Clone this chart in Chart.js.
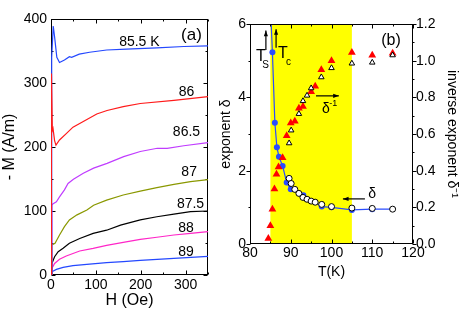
<!DOCTYPE html>
<html>
<head>
<meta charset="utf-8">
<script src="https://cdn.jsdelivr.net/npm/chart.js@4.4.1/dist/chart.umd.min.js"></script>
<style>
  html, body { margin: 0; padding: 0; background: #fff; }
  #wrap { position: relative; width: 463px; height: 309px; overflow: hidden; }
  #wrap canvas { position: absolute; top: 0; }
</style>
</head>
<body>
<div id="wrap">
  <canvas id="graphA" width="230" height="309" style="left:0"></canvas>
  <canvas id="graphB" width="253" height="309" style="left:210px"></canvas>
</div>
<script>
// ---- panel (a): -M (A/m) vs H (Oe), one pair of arrays per temperature
var h855 = [0, 1.5, 5, 8, 13, 19, 30, 41, 46, 63, 86, 124, 168, 236, 296, 350];
var m855 = [0, 340, 389, 372, 340, 332, 336, 341, 340, 345, 348, 351.6, 353, 355, 357, 358];
var h86 = [0, 1, 3, 4.5, 8, 11, 19, 34, 49, 72, 102, 125, 161, 199, 274, 350];
var m86 = [0, 315, 226, 229, 210, 203, 211, 221, 231, 240, 251.5, 257, 263, 268, 273, 278.6];
var h865 = [0, 2, 4, 12, 19, 30, 38, 50, 72, 95, 125, 162, 199, 237, 259, 296, 350];
var m865 = [0, 109, 111, 114.5, 122, 133, 143, 149.5, 159, 167, 174.5, 185, 193, 198, 198, 202, 207];
var h87 = [0, 2, 9, 19, 30, 41, 58, 80, 95, 124, 161, 199, 236, 274, 311, 350];
var m87 = [0, 47, 49.5, 62.5, 75.5, 86, 94, 101.6, 109, 117, 125, 131, 136.5, 141.7, 146, 149];
var h875 = [0, 2, 8, 16, 27, 41, 64, 94, 124, 155, 199, 236, 274, 311, 350];
var m875 = [0, 18, 28.6, 36.4, 41.7, 49.5, 57, 65, 70, 78, 86, 91, 95, 99, 100];
var h88 = [0, 2, 8, 19, 34, 64, 94, 124, 161, 199, 236, 274, 311, 350];
var m88 = [0, 10.4, 18, 24.5, 29.7, 37.5, 41.7, 46.4, 51, 55.8, 59, 62.5, 65, 67.7];
var h89 = [0, 2, 12, 27, 49, 86, 124, 161, 199, 274, 350];
var m89 = [0, 5, 8.8, 12, 14.6, 17, 19.3, 20.8, 22.9, 26, 29];
var curveNames = ['85.5 K', '86', '86.5', '87', '87.5', '88', '89'];

// ---- panel (b): exponent delta and inverse exponent vs T (K)
var deltaT = [85.2, 85.5, 86.1, 86.6, 87.1, 88.0, 89.0, 90.0, 93.1, 97.6, 100, 105, 110, 115];
var deltaV = [6.0, 5.23, 3.31, 2.64, 2.38, 2.13, 1.68, 1.49, 1.33, 1.02, 1.0, 0.93, 0.95, 0.95];
var openT = [89.6, 90.1, 91.0, 92.0, 93.0, 94.0, 95.0, 96.0, 97.6, 100, 105, 110, 115];
var openV = [1.79, 1.65, 1.49, 1.38, 1.27, 1.22, 1.17, 1.14, 1.08, 1.02, 0.98, 0.97, 0.95];
var invT = [84.5, 85.0, 85.5, 86.0, 86.5, 87.0, 88.0, 89.0, 90.0, 91.0, 92.0, 93.0, 95.0, 96.0, 97.5, 100, 105, 110, 115];
var invV = [0.03, 0.10, 0.19, 0.30, 0.38, 0.42, 0.47, 0.59, 0.66, 0.67, 0.74, 0.75, 0.83, 0.86, 0.95, 1.0, 1.045, 1.03, 1.04];
var invOpenT = [89.6, 90.1, 92.0, 93.0, 94.0, 95.0, 97.5, 100, 105, 110, 115];
var invOpenV = [0.55, 0.62, 0.71, 0.78, 0.81, 0.85, 0.91, 0.96, 0.985, 0.99, 1.03];
var shadeFrom = 85, shadeTo = 105;

Chart.defaults.font.family = "'Liberation Sans', Arial, sans-serif";
Chart.defaults.color = '#000';
var narrow = "'Liberation Sans Narrow', 'Liberation Sans', Arial, sans-serif";

function pts(xs, ys) {
  return xs.map(function (x, i) { return { x: x, y: ys[i] }; });
}

function curve(label, xs, ys, color, order) {
  return {
    label: label, data: pts(xs, ys), borderColor: color, backgroundColor: color,
    borderWidth: 1.2, pointRadius: 0, tension: 0, order: order
  };
}

function arrow(ctx, x1, y1, x2, y2) {
  var ang = Math.atan2(y2 - y1, x2 - x1);
  ctx.beginPath();
  ctx.moveTo(x1, y1); ctx.lineTo(x2, y2);
  ctx.stroke();
  ctx.beginPath();
  ctx.moveTo(x2, y2);
  ctx.lineTo(x2 - 6 * Math.cos(ang - 0.35), y2 - 6 * Math.sin(ang - 0.35));
  ctx.lineTo(x2 - 6 * Math.cos(ang + 0.35), y2 - 6 * Math.sin(ang + 0.35));
  ctx.closePath();
  ctx.fill();
}

// ticks: list of [value, length]; inward or outward on one side
function marks(ctx, scale, ticks, side, edge, inward) {
  ctx.beginPath();
  ticks.forEach(function (t) {
    var p = Math.round(scale.getPixelForValue(t[0])) + 0.5;
    var l = inward ? t[1] : -t[1];
    if (side === 'bottom') { ctx.moveTo(p, edge); ctx.lineTo(p, edge - l); }
    if (side === 'top') { ctx.moveTo(p, edge); ctx.lineTo(p, edge + l); }
    if (side === 'left') { ctx.moveTo(edge, p); ctx.lineTo(edge + l, p); }
    if (side === 'right') { ctx.moveTo(edge, p); ctx.lineTo(edge - l, p); }
  });
  ctx.stroke();
}

function stepTicks(from, to, step, majorEvery) {
  var out = [];
  for (var i = 0; from + i * step <= to + 1e-9; i++) {
    out.push([from + i * step, i % majorEvery === 0 ? 4 : 2]);
  }
  return out;
}

function box(ctx, a) {
  ctx.strokeRect(Math.round(a.left) + 0.5, Math.round(a.top) + 0.5,
    Math.round(a.right - a.left) - 1, Math.round(a.bottom - a.top) - 1);
}

// ---------- panel (a)
var frameA = {
  id: 'frameA',
  beforeDatasetsDraw: function (chart) {
    var ctx = chart.ctx, a = chart.chartArea, x = chart.scales.x, y = chart.scales.y;
    ctx.save();
    ctx.strokeStyle = '#000';
    ctx.lineWidth = 1;
    box(ctx, a);
    var xt = stepTicks(0, 350, 50, 2), yt = stepTicks(0, 400, 50, 2);
    marks(ctx, x, xt, 'bottom', a.bottom - 0.5, true);
    marks(ctx, x, xt, 'top', a.top + 0.5, true);
    marks(ctx, y, yt, 'left', a.left + 0.5, true);
    marks(ctx, y, yt, 'right', a.right - 0.5, true);
    ctx.restore();
  },
  afterDraw: function (chart) {
    var ctx = chart.ctx, x = chart.scales.x, y = chart.scales.y;
    var spots = [[197, 364], [302, 286], [302, 223], [308, 161], [311, 111], [301, 72.7], [301, 35]];
    ctx.save();
    ctx.fillStyle = '#000';
    ctx.textAlign = 'center';
    ctx.textBaseline = 'middle';
    ctx.font = "14px 'Liberation Sans', Arial, sans-serif";
    curveNames.forEach(function (n, i) {
      ctx.fillText(n, x.getPixelForValue(spots[i][0]), y.getPixelForValue(spots[i][1]));
    });
    ctx.font = "17px 'Liberation Sans', Arial, sans-serif";
    ctx.fillText('(a)', x.getPixelForValue(313), y.getPixelForValue(375));
    ctx.restore();
  }
};

new Chart(document.getElementById('graphA'), {
  type: 'line',
  data: {
    datasets: [
      curve(curveNames[0], h855, m855, '#2448ff', 1),
      curve(curveNames[1], h86, m86, '#ff1a1a', 0),
      curve(curveNames[2], h865, m865, '#c03cff', 1),
      curve(curveNames[3], h87, m87, '#8a9800', 1),
      curve(curveNames[4], h875, m875, '#000000', 1),
      curve(curveNames[5], h88, m88, '#ff26c8', 1),
      curve(curveNames[6], h89, m89, '#2448ff', 1)
    ]
  },
  options: {
    responsive: false,
    animation: false,
    layout: { padding: { top: 19, right: 22, left: 0, bottom: 0 } },
    plugins: { legend: { display: false }, tooltip: { enabled: false } },
    scales: {
      x: {
        type: 'linear', min: 0, max: 350,
        grid: { display: false, drawTicks: false },
        border: { display: false },
        ticks: {
          stepSize: 50, padding: 2, maxRotation: 0, autoSkip: false,
          font: { size: 14 },
          callback: function (v) { return v % 100 === 0 ? v : ''; }
        },
        title: { display: true, text: 'H (Oe)', font: { size: 16, lineHeight: 1 }, padding: { top: 0, bottom: 0 } },
        afterFit: function (s) { s.height = 34; }
      },
      y: {
        min: 0, max: 400,
        grid: { display: false, drawTicks: false },
        border: { display: false },
        ticks: {
          stepSize: 50, padding: 4, autoSkip: false,
          font: { size: 14 },
          callback: function (v) { return v % 100 === 0 ? v : ''; }
        },
        title: { display: true, text: '- M (A/m)', font: { size: 16, lineHeight: 1 }, padding: { top: 2, bottom: 0 } },
        afterFit: function (s) { s.width = 51; }
      }
    }
  },
  plugins: [frameA]
});

// ---------- panel (b)
var frameB = {
  id: 'frameB',
  beforeDatasetsDraw: function (chart) {
    var ctx = chart.ctx, a = chart.chartArea, x = chart.scales.x;
    ctx.save();
    ctx.fillStyle = '#ffff00';
    var l = x.getPixelForValue(shadeFrom), r = x.getPixelForValue(shadeTo);
    ctx.fillRect(l, a.top, r - l, a.bottom - a.top);
    ctx.restore();
  },
  afterDatasetsDraw: function (chart) {
    var ctx = chart.ctx, a = chart.chartArea, x = chart.scales.x, y = chart.scales.y, y2 = chart.scales.y2;
    ctx.save();
    ctx.strokeStyle = '#000';
    ctx.lineWidth = 1;
    box(ctx, a);
    var xt = stepTicks(80, 120, 5, 2);
    marks(ctx, x, xt, 'bottom', a.bottom - 0.5, true);
    marks(ctx, x, xt, 'top', a.top + 0.5, true);
    marks(ctx, y, stepTicks(0, 6, 1, 2), 'left', a.left + 0.5, false);
    marks(ctx, y2, stepTicks(0, 1.2, 0.1, 2), 'right', a.right - 0.5, false);
    ctx.restore();
  },
  afterDraw: function (chart) {
    var ctx = chart.ctx, x = chart.scales.x, y = chart.scales.y;
    function px(t) { return x.getPixelForValue(t); }
    function py(d) { return y.getPixelForValue(d); }
    ctx.save();
    ctx.fillStyle = '#000';
    ctx.strokeStyle = '#000';
    ctx.lineWidth = 1.2;
    arrow(ctx, px(83.9), py(5.29), px(83.9), py(5.82));
    arrow(ctx, px(86.4), py(5.35), px(86.4), py(5.86));
    arrow(ctx, px(96.2), py(4.04), px(101.8), py(4.04));
    arrow(ctx, px(108.2), py(1.23), px(102.8), py(1.23));
    ctx.textAlign = 'center';
    ctx.textBaseline = 'middle';
    ctx.font = "16px 'Liberation Sans', Arial, sans-serif";
    ctx.fillText('T', px(82.7), py(5.1));
    ctx.fillText('T', px(88.1), py(5.18));
    ctx.font = "10px 'Liberation Sans', Arial, sans-serif";
    ctx.fillText('S', px(83.8), py(4.88));
    ctx.fillText('c', px(89.45), py(4.96));
    ctx.font = "14px 'Liberation Sans', Arial, sans-serif";
    ctx.fillText('\u03b4', px(98.65), py(3.68));
    ctx.fillText('\u03b4', px(110), py(1.36));
    ctx.font = "9px 'Liberation Sans', Arial, sans-serif";
    ctx.fillText('-1', px(100.4), py(3.82));
    ctx.font = "16px 'Liberation Sans', Arial, sans-serif";
    ctx.fillText('(b)', px(114.6), py(5.56));
    ctx.restore();
  }
};

var blueRadius = deltaT.map(function (t, i) { return (i === 0 || i === deltaT.length - 1) ? 0 : 3; });

new Chart(document.getElementById('graphB'), {
  type: 'line',
  data: {
    datasets: [
      {
        label: 'delta', data: pts(deltaT, deltaV), yAxisID: 'y',
        borderColor: '#2a4cff', backgroundColor: '#2a4cff', borderWidth: 1.2,
        pointRadius: blueRadius, pointBorderWidth: 0, tension: 0, order: 2
      },
      {
        label: 'delta open', data: pts(openT, openV), yAxisID: 'y', showLine: false,
        pointStyle: 'circle', pointRadius: 3, pointBackgroundColor: '#fff',
        pointBorderColor: '#000', pointBorderWidth: 1, order: 1
      },
      {
        label: 'inverse', data: pts(invT, invV), yAxisID: 'y2', showLine: false,
        pointStyle: 'triangle', pointRadius: 4.5, pointBackgroundColor: '#ff0000',
        pointBorderColor: '#ff0000', pointBorderWidth: 0, order: 1
      },
      {
        label: 'inverse open', data: pts(invOpenT, invOpenV), yAxisID: 'y2', showLine: false,
        pointStyle: 'triangle', pointRadius: 3.2, pointBackgroundColor: '#fff',
        pointBorderColor: '#000', pointBorderWidth: 1, order: 0
      }
    ]
  },
  options: {
    responsive: false,
    animation: false,
    layout: { padding: { top: 24, right: 0, left: 0, bottom: 0 } },
    plugins: { legend: { display: false }, tooltip: { enabled: false } },
    scales: {
      x: {
        type: 'linear', min: 80, max: 120,
        grid: { display: false, drawTicks: false },
        border: { display: false },
        ticks: { stepSize: 10, padding: 1, maxRotation: 0, autoSkip: false, font: { size: 14, family: narrow } },
        title: { display: true, text: 'T(K)', font: { size: 14, family: narrow, lineHeight: 1.2 }, padding: { top: 0, bottom: 28 } },
        afterFit: function (s) { s.height = 65; }
      },
      y: {
        position: 'left', min: 0, max: 6,
        grid: { display: false, drawTicks: false },
        border: { display: false },
        ticks: { stepSize: 2, padding: 4, autoSkip: false, font: { size: 14, family: narrow } },
        title: { display: true, text: 'exponent \u03b4', font: { size: 14, lineHeight: 1.2 }, padding: { top: 8, bottom: 0 } },
        afterFit: function (s) { s.width = 40; }
      },
      y2: {
        position: 'right', min: 0, max: 1.2,
        grid: { display: false, drawTicks: false },
        border: { display: false },
        ticks: {
          stepSize: 0.2, padding: 3, autoSkip: false, font: { size: 14, family: narrow },
          callback: function (v) { return Number(v).toFixed(1); }
        },
        title: { display: true, text: 'inverse exponent \u03b4\u207b\u00b9', font: { size: 14, lineHeight: 1.2 }, padding: { top: 3, bottom: 0 } },
        afterFit: function (s) { s.width = 50; }
      }
    }
  },
  plugins: [frameB]
});
</script>
</body>
</html>
